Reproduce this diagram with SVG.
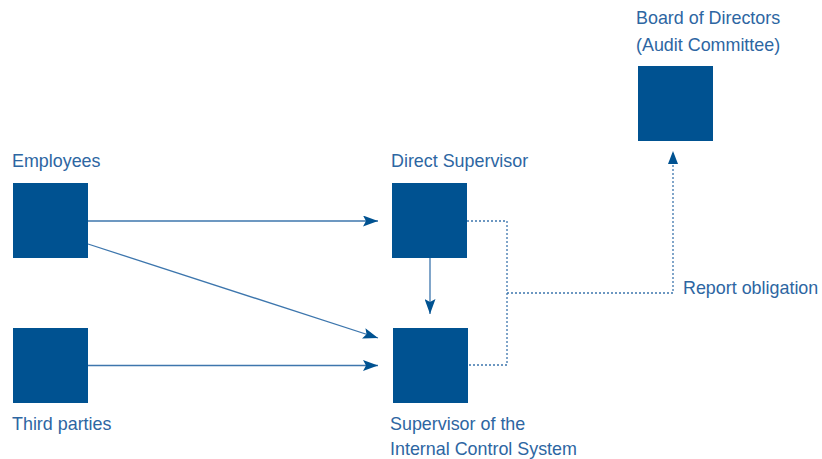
<svg xmlns="http://www.w3.org/2000/svg" width="822" height="459" viewBox="0 0 822 459">
<style>
.box{fill:#005291}
.lbl{font-family:"Liberation Sans",Arial,sans-serif;font-size:17.9px;fill:#2d66a2}
.ln{stroke:#3d76ad;stroke-width:1.3;fill:none}
.dot{stroke:#3d76ad;stroke-width:1.3;fill:none;stroke-dasharray:2 2}
</style>
<defs>
<marker id="ah" viewBox="0 0 15 11" refX="15" refY="5.5" markerWidth="15" markerHeight="11" markerUnits="userSpaceOnUse" orient="auto">
<path d="M0,0 L15,5.5 L0,11 L3,5.5 Z" fill="#005291"/>
</marker>
</defs>
<g id="connectors">
<line class="ln" x1="88" y1="221" x2="378" y2="221" marker-end="url(#ah)"/>
<line class="ln" x1="88" y1="244" x2="378" y2="338" marker-end="url(#ah)"/>
<line class="ln" x1="88" y1="365.5" x2="378" y2="365.5" marker-end="url(#ah)"/>
<line class="ln" x1="430" y1="258" x2="430" y2="314" marker-end="url(#ah)"/>
<polyline class="dot" points="467,221 507,221 507,365 467,365"/>
<polyline class="dot" points="507,293 673,293 673,152"/>
<path d="M668,164 L673,151 L678,164 Z" fill="#005291"/>
</g>
<g id="employees">
<rect class="box" x="13" y="183" width="75" height="75"/>
<text class="lbl" x="12" y="167">Employees</text>
</g>
<g id="third-parties">
<rect class="box" x="13" y="328" width="75" height="75"/>
<text class="lbl" x="12" y="430">Third parties</text>
</g>
<g id="direct-supervisor">
<rect class="box" x="392" y="183" width="75" height="75"/>
<text class="lbl" x="391" y="167">Direct Supervisor</text>
</g>
<g id="ics-supervisor">
<rect class="box" x="393" y="328" width="75" height="75"/>
<text class="lbl" x="390" y="430">Supervisor of the</text>
<text class="lbl" x="390" y="455">Internal Control System</text>
</g>
<g id="board">
<rect class="box" x="638" y="66" width="75" height="75"/>
<text class="lbl" x="636" y="24">Board of Directors</text>
<text class="lbl" x="636" y="51">(Audit Committee)</text>
</g>
<g id="report-label">
<text class="lbl" x="683" y="294">Report obligation</text>
</g>
</svg>
